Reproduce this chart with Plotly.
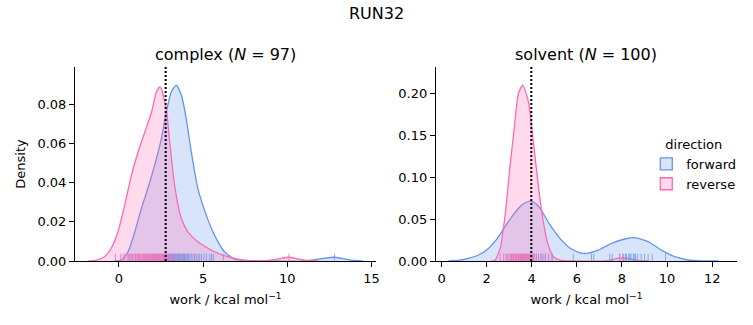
import plotly.graph_objects as go

# ---------------- data ----------------
# complex leg KDE curves
cx_fwd_x = [-0.3, 0.16, 0.55, 0.95, 1.34, 1.74, 2.13, 2.53, 2.82, 3.12, 3.41, 3.71, 4.0, 4.3, 4.69, 5.19, 5.68, 6.27, 6.86, 7.46, 8.5, 11.0, 11.7, 12.2, 12.76, 13.3, 13.8, 14.5]
cx_fwd_y = [0.0, 0.0005, 0.0047, 0.0149, 0.0268, 0.0375, 0.049, 0.0625, 0.0761, 0.0863, 0.0897, 0.0846, 0.0727, 0.0557, 0.037, 0.0234, 0.0132, 0.0047, 0.001, 0.0002, 0.0, 0.0001, 0.0008, 0.0014, 0.0019, 0.0012, 0.0004, 0.0]
cx_rev_x = [-1.8, -1.4, -0.85, -0.45, -0.05, 0.35, 0.75, 1.15, 1.55, 1.95, 2.23, 2.43, 2.55, 2.72, 2.82, 3.02, 3.31, 3.71, 4.1, 4.69, 5.68, 6.67, 7.46, 8.3, 9.0, 9.5, 10.08, 10.6, 11.1, 11.9]
cx_rev_y = [0.0, 0.0003, 0.0022, 0.0065, 0.0149, 0.0285, 0.0438, 0.0557, 0.0659, 0.0761, 0.0863, 0.0888, 0.0875, 0.0812, 0.0778, 0.0608, 0.0387, 0.0217, 0.0149, 0.0098, 0.0047, 0.0017, 0.0004, 0.0001, 0.0004, 0.0011, 0.0019, 0.0011, 0.0003, 0.0]

# solvent leg KDE curves
sv_fwd_x = [0.3, 0.8, 1.19, 1.64, 2.08, 2.45, 2.82, 3.19, 3.41, 3.65, 3.92, 4.15, 4.37, 4.81, 5.25, 5.69, 6.14, 6.4, 6.95, 7.54, 8.13, 8.57, 9.16, 9.75, 10.34, 10.93, 11.5, 12.3]
sv_fwd_y = [0.0, 0.001, 0.0032, 0.0071, 0.015, 0.026, 0.041, 0.0555, 0.0628, 0.0685, 0.0714, 0.069, 0.0627, 0.0429, 0.027, 0.0155, 0.0098, 0.009, 0.013, 0.021, 0.0262, 0.0278, 0.023, 0.013, 0.0051, 0.0012, 0.0002, 0.0]
sv_rev_x = [2.2, 2.37, 2.6, 2.82, 3.04, 3.19, 3.41, 3.6, 3.85, 4.07, 4.29, 4.51, 4.73, 4.96, 5.25, 5.8, 7.3, 7.6, 8.05, 8.45, 8.8, 9.2]
sv_rev_y = [0.0, 0.001, 0.015, 0.0548, 0.114, 0.15, 0.1996, 0.2095, 0.19, 0.142, 0.09, 0.0468, 0.019, 0.005, 0.001, 0.0, 0.0002, 0.002, 0.004, 0.002, 0.0003, 0.0]

# rug (individual work values)
cx_fwd_rug = [0.6, 0.8, 1.0, 1.2, 1.4, 1.55, 1.7, 1.85, 2.0, 2.1, 2.2, 2.3, 2.4, 2.5, 2.6, 2.68, 2.75, 2.82, 2.9, 2.95, 3.0, 3.05, 3.1, 3.15, 3.2, 3.25, 3.3, 3.35, 3.4, 3.45, 3.5, 3.55, 3.6, 3.65, 3.7, 3.75, 3.8, 3.85, 3.9, 3.95, 4.0, 4.08, 4.15, 4.22, 4.3, 4.4, 4.5, 4.6, 4.7, 4.8, 4.9, 5.05, 5.2, 5.4, 5.5, 5.6, 6.2, 12.8]
cx_rev_rug = [-0.2, 0.1, 0.25, 0.35, 0.5, 0.6, 0.7, 0.78, 0.85, 0.95, 1.02, 1.1, 1.15, 1.2, 1.25, 1.3, 1.38, 1.45, 1.5, 1.55, 1.6, 1.65, 1.7, 1.75, 1.8, 1.85, 1.9, 1.95, 2.0, 2.05, 2.1, 2.15, 2.2, 2.25, 2.3, 2.35, 2.4, 2.45, 2.5, 2.55, 2.6, 2.65, 2.7, 2.75, 2.8, 2.85, 2.9, 3.0, 3.1, 3.2, 3.3, 3.5, 3.8, 4.1, 4.5, 10.1]
sv_fwd_rug = [2.9, 3.1, 3.2, 3.3, 3.4, 3.5, 3.6, 3.7, 3.8, 3.88, 3.95, 4.02, 4.1, 4.2, 4.3, 4.4, 4.5, 4.6, 4.75, 4.9, 5.84, 6.65, 6.75, 7.46, 7.57, 7.9, 8.05, 8.15, 8.2, 8.3, 8.35, 8.4, 8.5, 8.55, 8.6, 8.7, 8.85, 9.0, 9.16, 9.34, 9.93]
sv_rev_rug = [2.6, 2.75, 2.85, 2.95, 3.0, 3.05, 3.1, 3.15, 3.2, 3.25, 3.3, 3.33, 3.35, 3.4, 3.43, 3.45, 3.5, 3.53, 3.55, 3.6, 3.63, 3.65, 3.7, 3.73, 3.75, 3.8, 3.83, 3.85, 3.9, 3.95, 4.0, 4.05, 4.1, 4.2, 4.3, 4.45, 4.6, 4.9, 7.9, 8.05]

# reference (vertical dotted) lines
ref_lines = [2.78, 3.98]

titles = ["complex (<i>N</i> = 97)", "solvent (<i>N</i> = 100)"]
directions = ["forward", "reverse"]

# ---------------- styling ----------------
FONT = "DejaVu Sans"
BLUE = "#6495ED"
PINK = "#FF69B4"
FILL = {"forward": "rgba(100,149,237,0.25)", "reverse": "rgba(255,105,180,0.25)"}
LINE = {"forward": BLUE, "reverse": PINK}

fig = go.Figure()

panels = [
    ("x", "y", "y3", cx_fwd_x, cx_fwd_y, cx_rev_x, cx_rev_y, cx_fwd_rug, cx_rev_rug, ref_lines[0]),
    ("x2", "y2", "y4", sv_fwd_x, sv_fwd_y, sv_rev_x, sv_rev_y, sv_fwd_rug, sv_rev_rug, ref_lines[1]),
]

for xa, ya, yo, fx, fy, rx, ry, frug, rrug, vline in panels:
    for d, xs, ys in (("forward", fx, fy), ("reverse", rx, ry)):
        fig.add_trace(go.Scatter(
            x=xs, y=ys, mode="lines", name=d, legendgroup=d, showlegend=False,
            line=dict(color=LINE[d], width=1.3, shape="spline", smoothing=0.55),
            fill="tozeroy", fillcolor=FILL[d], xaxis=xa, yaxis=ya, hoverinfo="skip"))
    for d, rug in (("forward", frug), ("reverse", rrug)):
        fig.add_trace(go.Scatter(
            x=rug, y=[0.016] * len(rug), mode="markers", showlegend=False,
            marker=dict(symbol="line-ns-open", size=6, color=LINE[d], opacity=0.75,
                        line=dict(width=1, color=LINE[d])),
            xaxis=xa, yaxis=yo, hoverinfo="skip"))
    fig.add_trace(go.Scatter(
        x=[vline, vline], y=[0, 1], mode="lines", showlegend=False,
        line=dict(color="black", width=2, dash="2px,2px"),
        xaxis=xa, yaxis=yo, hoverinfo="skip"))

# legend entries: rectangular patches
for d in directions:
    fig.add_trace(go.Bar(x=[None], y=[None], name=d, legendgroup=d, showlegend=True,
                         marker=dict(color=FILL[d], line=dict(color=LINE[d], width=1.3)),
                         xaxis="x2", yaxis="y2"))

W, H = 753, 325
L, R, T, B = 75, 14, 67, 64
pw = W - L - R
d1 = (377 - L) / pw
d2 = (437 - L) / pw

axis_common = dict(showline=True, linecolor="black", linewidth=1, ticks="outside",
                   ticklen=5, tickwidth=1, tickcolor="black", showgrid=False,
                   zeroline=False, tickfont=dict(family=FONT, size=13, color="black"))

xtitle = dict(text="work / kcal mol<sup>−1</sup>", font=dict(family=FONT, size=13, color="black"), standoff=10)

fig.update_layout(
    width=W, height=H, margin=dict(l=L, r=R, t=T, b=B),
    plot_bgcolor="white", paper_bgcolor="white",
    font=dict(family=FONT, size=13, color="black"),
    title=dict(text="RUN32", x=0.5, xanchor="center", y=1 - 13 / H, yanchor="middle",
               font=dict(family=FONT, size=16, color="black")),
    xaxis=dict(domain=[0, d1], range=[-2.6, 15.27], dtick=5, tick0=0, anchor="y", title=xtitle, **axis_common),
    yaxis=dict(domain=[0, 1], range=[0, 0.0989], dtick=0.02, tickformat=".2f", anchor="x",
               title=dict(text="Density", font=dict(family=FONT, size=13, color="black"), standoff=8), **axis_common),
    xaxis2=dict(domain=[d2, 1], range=[-0.25, 13.1], dtick=2, tick0=0, anchor="y2", title=xtitle, **axis_common),
    yaxis2=dict(domain=[0, 1], range=[0, 0.231], dtick=0.05, tickformat=".2f", anchor="x2", **axis_common),
    yaxis3=dict(overlaying="y", range=[0, 1], visible=False, anchor="x"),
    yaxis4=dict(overlaying="y2", range=[0, 1], visible=False, anchor="x2"),
    legend=dict(x=(648 - L) / pw, y=(H - B - 132) / (H - T - B), xanchor="left", yanchor="top",
                bgcolor="rgba(255,255,255,0)", font=dict(family=FONT, size=13, color="black"),
                title=dict(text="direction", side="top center", font=dict(family=FONT, size=13, color="black")),
                itemwidth=30, tracegroupgap=0),
    showlegend=True,
)

for i, t in enumerate(titles):
    cx = (d1 / 2) if i == 0 else ((d2 + 1) / 2)
    fig.add_annotation(text=t, x=cx, y=(H - B - 54) / (H - T - B), xref="paper", yref="paper",
                       xanchor="center", yanchor="middle", showarrow=False,
                       font=dict(family=FONT, size=16, color="black"))

fig.write_html("out.html")
